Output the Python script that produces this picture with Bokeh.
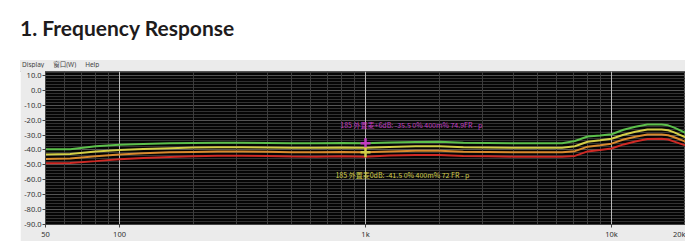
from bokeh.plotting import figure
from bokeh.layouts import column
from bokeh.models import (Div, Range1d, FixedTicker, Grid, NumeralTickFormatter, Label)
from bokeh.embed import file_html
from bokeh.resources import INLINE

# ---------------- data ----------------
freq = [50, 63, 80, 100, 125, 160, 200, 250, 315, 400, 500, 630, 800, 1000, 1250, 1600,
        2000, 2500, 3150, 4000, 5000, 6300, 7100, 8000, 9000, 10000, 11200, 12500,
        14000, 16000, 17000, 18000, 20000]
green = [-39.5, -39.5, -37.5, -36.5, -36.0, -35.5, -35.3, -35.2, -35.2, -35.3, -35.5, -35.5,
         -35.3, -35.5, -35.0, -34.6, -34.5, -35.2, -35.3, -35.5, -35.5, -35.5, -34.0, -31.0,
         -30.3, -29.5, -26.5, -24.5, -23.0, -23.0, -23.5, -25.0, -28.5]
yellow = [-43.0, -42.8, -41.0, -40.0, -39.3, -38.8, -38.4, -38.2, -38.2, -38.3, -38.6, -38.6,
          -38.3, -38.5, -38.0, -37.6, -37.6, -38.2, -38.3, -38.5, -38.5, -38.5, -37.5, -34.5,
          -33.5, -32.5, -29.8, -27.8, -26.3, -26.3, -26.8, -28.2, -31.5]
orange = [-46.0, -45.8, -44.2, -43.0, -42.2, -41.6, -41.3, -41.0, -41.0, -41.2, -41.5, -41.6,
          -41.3, -41.5, -41.0, -40.6, -40.6, -41.2, -41.4, -41.6, -41.6, -41.6, -40.8, -37.8,
          -36.8, -35.8, -33.0, -31.2, -29.6, -29.6, -30.2, -31.5, -34.5]
red = [-49.0, -48.7, -47.5, -46.2, -45.4, -44.8, -44.3, -43.9, -43.9, -44.1, -44.4, -44.5,
       -44.2, -44.5, -43.8, -43.4, -43.4, -44.1, -44.3, -44.5, -44.5, -44.5, -44.0, -41.0,
       -40.0, -39.0, -36.3, -34.3, -32.6, -32.5, -33.0, -34.4, -37.0]

cursor_freq = [1000, 1000]
cursor_db = [-35.5, -41.5]
cursor_text = ["185 外置麦+6dB: -35.5 0% 400m% 74.9FR - p",
               "185 外置麦0dB: -41.5 0% 400m% 72 FR - p"]

x_ticks = [50, 100, 1000, 10000, 20000]
x_tick_labels = ["50", "100", "1k", "10k", "20k"]
x_major_grid = [100, 1000, 10000]
x_minor_grid = [60, 70, 80, 90, 200, 300, 400, 500, 600, 700, 800, 900,
                2000, 3000, 4000, 5000, 6000, 7000, 8000, 9000]
y_ticks = [10, 0, -10, -20, -30, -40, -50, -60, -70, -80, -90]
y_minor_grid = [12, 8, 6, 4, 2, -2, -4, -6, -8, -12, -14, -16, -18, -22, -24, -26, -28,
                -32, -34, -36, -38, -42, -44, -46, -48, -52, -54, -56, -58, -62, -64, -66,
                -68, -72, -74, -76, -78, -82, -84, -86, -88]

title_text = "1. Frequency Response"
menu_items = ["Display", "窗口(W)", "Help"]

PANEL = "#ebebeb"

# ---------------- layout ----------------
title = Div(text=('<div style="font-family:Lato; font-weight:700; font-size:21px; '
                  'color:#1e1b1c; padding:15px 0 0 20px; line-height:1.2; white-space:nowrap;">'
                  + title_text + '</div>'),
            width=686, height=55, margin=(0, 0, 0, 0))

menu_html = "".join('<span style="margin-right:9px;">%s</span>' % m for m in menu_items)
menu = Div(text=('<div style="width:665px; height:12px; background:%s; border-bottom:1px solid #d2d2d2; '
                 'font-family:\'Noto Sans\',\'Noto Sans CJK SC\'; font-size:6.5px; color:#444; '
                 'line-height:10px; padding-left:2px; box-sizing:border-box; white-space:nowrap;">%s</div>')
           % (PANEL, menu_html),
           width=665, height=12, margin=(0, 0, 0, 20))

p = figure(width=665, height=174, x_axis_type="log",
           x_range=Range1d(50, 20000), y_range=Range1d(-90, 12.6),
           output_backend="svg", toolbar_location=None,
           min_border_left=25, min_border_right=0, min_border_top=4, min_border_bottom=13,
           margin=(0, 0, 0, 20))
p.border_fill_color = PANEL
p.background_fill_color = "#050505"
p.outline_line_color = "#555555"

# grids
p.xgrid.visible = False
p.ygrid.visible = False
p.add_layout(Grid(dimension=1, ticker=FixedTicker(ticks=y_minor_grid),
                  grid_line_color="#333333", grid_line_width=1))
p.add_layout(Grid(dimension=1, ticker=FixedTicker(ticks=y_ticks),
                  grid_line_color="#555555", grid_line_width=1))
p.add_layout(Grid(dimension=0, ticker=FixedTicker(ticks=x_minor_grid),
                  grid_line_color="#3c3c3c", grid_line_width=1))
p.add_layout(Grid(dimension=0, ticker=FixedTicker(ticks=x_major_grid),
                  grid_line_color="#b8b8b8", grid_line_width=1))

# axes
p.xaxis.ticker = FixedTicker(ticks=x_ticks)
p.xaxis.major_label_overrides = {t: s for t, s in zip(x_ticks, x_tick_labels)}
p.yaxis.ticker = FixedTicker(ticks=y_ticks)
p.yaxis.formatter = NumeralTickFormatter(format="0.0")
for ax in (p.xaxis, p.yaxis):
    ax.major_label_text_font = "Noto Sans"
    ax.major_label_text_font_size = "7.5px"
    ax.major_label_text_color = "#333333"
    ax.major_tick_in = 0
    ax.major_tick_out = 3
    ax.minor_tick_out = 0
    ax.minor_tick_in = 0
    ax.axis_line_color = "#444444"
    ax.major_tick_line_color = "#444444"
    ax.major_label_standoff = 1

# curves
for ys, c in ((red, "#cf2a25"), (orange, "#d98a2e"), (yellow, "#d3cf47"), (green, "#5cc04b")):
    p.line(freq, ys, line_color=c, line_width=2)

# cursors
cursor_colors = ["#c23cc2", "#d3cf47"]
p.scatter(cursor_freq, cursor_db, marker="cross", size=10, line_width=2.5,
          color=cursor_colors)

p.add_layout(Label(x=790, y=-23, text=cursor_text[0], text_color=cursor_colors[0],
                   text_font="Noto Sans CJK SC", text_font_size="7px", text_baseline="middle"))
p.add_layout(Label(x=755, y=-57, text=cursor_text[1], text_color=cursor_colors[1],
                   text_font="Noto Sans CJK SC", text_font_size="7px", text_baseline="middle"))

layout = column(title, menu, p, spacing=0)
open("out.html", "w").write(file_html(layout, INLINE))
